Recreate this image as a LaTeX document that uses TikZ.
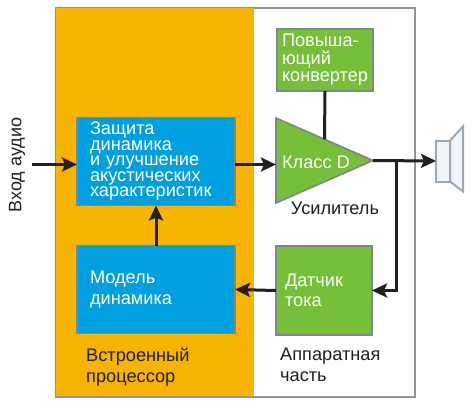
\documentclass[tikz,border=0pt]{standalone}
\usepackage{xcolor}
\usepackage{fontspec}
\setmainfont{Liberation Sans}
\usepackage{tikz}
\usetikzlibrary{shapes.geometric, arrows.meta, positioning, calc}
\definecolor{procfill}{HTML}{F6B400}
\definecolor{blkblue}{HTML}{009FE0}
\definecolor{blkgreen}{HTML}{76BF39}
\definecolor{blkdraw}{HTML}{80868A}
\definecolor{framedraw}{HTML}{8C9499}
\definecolor{arrdraw}{HTML}{231F20}
\definecolor{spkfill}{HTML}{EEF4F8}
\definecolor{spkdraw}{HTML}{9AA8B2}
\tikzset{
  blk/.style={rectangle, line width=1.6pt, draw=blkdraw, align=left, text=white, font=\fontsize{18.2}{15.5}\selectfont, inner sep=0pt, outer sep=0pt, anchor=north west},
  dsp/.style={blk, fill=blkblue, minimum width=158pt, minimum height=88pt, text width=132pt},
  hw/.style={blk, fill=blkgreen, minimum width=96pt, text width=86pt},
  lab/.style={align=left, text=arrdraw, font=\fontsize{18.2}{21}\selectfont, inner sep=0pt, anchor=north west},
  arr/.style={-{Stealth[length=15pt, width=14pt, inset=3pt]}, line width=3pt, draw=arrdraw},
  wire/.style={line width=3pt, draw=arrdraw},
}
\begin{document}
\begin{tikzpicture}[x=1pt, y=-1pt]
  \useasboundingbox (0,0) rectangle (475,405);
  % panels
  \node[rectangle, draw=framedraw, line width=2pt, fill=white, minimum width=359pt, minimum height=389pt, anchor=north west, inner sep=0pt] (frame) at (55,7) {};
  \node[rectangle, fill=procfill, minimum width=198pt, minimum height=388pt, anchor=north west, inner sep=0pt] (proc) at (55.5,7.5) {};
  % blocks
  \node[dsp] (protect) at (77,117.5) {Защита\\динамика\\и улучшение\\акустических\\характеристик};
  \node[dsp, below=40pt of protect.south west, anchor=north west] (model) {Модель\\[5pt]динамика};
  \node[hw, minimum height=62pt] (boost) at (277,29) {Повыша-\\[2pt]ющий\\[2pt]конвертер};
  \node[isosceles triangle, isosceles triangle stretches, shape border rotate=0, draw=blkdraw, line width=1.6pt, fill=blkgreen, minimum width=85pt, minimum height=97pt, inner sep=0pt, outer sep=0pt, anchor=lower side] (classd) at (276,160.5) {};
  \node[text=white, font=\fontsize{18.2}{18}\selectfont, inner sep=0pt] (classlab) at (316,162) {Класс D};
  \node[hw, minimum height=89pt, text width=78pt] (sensor) at (276,246) {Датчик\\[5pt]тока};
  \node[rectangle, draw=spkdraw, fill=spkfill, line width=2pt, minimum width=14pt, minimum height=41pt, inner sep=0pt, outer sep=0pt, anchor=west] (spkbox) at (436,161) {};
  % labels
  \node[rotate=90, text=arrdraw, font=\fontsize{18}{18}\selectfont, inner sep=0pt] (inlab) at (17,165) {Вход аудио};
  \node[lab, anchor=north] (amplab) at (335,202) {Усилитель};
  \node[lab] (proclab) at (86,348) {Встроенный\\процессор};
  \node[lab] (hwlab) at (280,348) {Аппаратная\\часть};
  % speaker cone
  \draw[draw=spkdraw, fill=spkfill, line width=2pt] (spkbox.north east) -- ++(13,-14) -- ++(0,65) -- (spkbox.south east) -- cycle;
  % connectors
  \coordinate (audioin) at (32,164.5);
  \coordinate (tap) at ($(classd.apex)+(23,0)$);
  \draw[arr] (audioin) -- (audioin -| protect.west);
  \draw[arr] (protect.east |- audioin) -- (classd.lower side |- audioin);
  \draw[wire] (boost.south) -- ($(classd.apex)!0.5!(classd.left corner)$);
  \draw[arr] (classd.apex) -- (spkbox.west);
  \draw[arr] (tap) -- (tap |- sensor.east) -- (sensor.east);
  \draw[arr] (sensor.west) -- (model.east);
  \draw[arr] (model.north) -- (protect.south);
\end{tikzpicture}
\end{document}
